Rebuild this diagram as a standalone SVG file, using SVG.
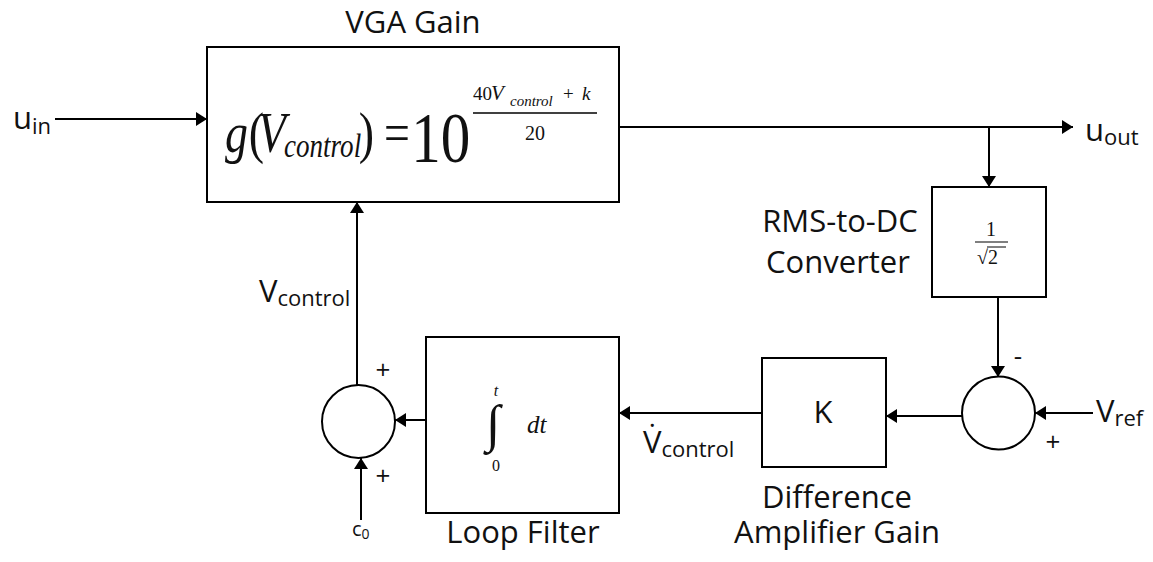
<svg xmlns="http://www.w3.org/2000/svg" width="1153" height="562" viewBox="0 0 1153 562">
<style>
.box{fill:#fff;stroke:#000;stroke-width:2}
.sum{fill:#fff;stroke:#000;stroke-width:2}
.ln{fill:none;stroke:#000;stroke-width:2}
.lbl{font-family:"Open Sans","Noto Sans",sans-serif;font-size:31px;fill:#111}
.sub{font-size:22px}
.sign{font-family:"Open Sans","Noto Sans",sans-serif;font-size:26px;fill:#111}
.m{font-family:"Liberation Serif",serif;fill:#111}
.it{font-style:italic}
</style>
<defs>
<marker id="ah" viewBox="0 0 11 14" refX="11" refY="7" markerWidth="11" markerHeight="14" markerUnits="userSpaceOnUse" orient="auto">
<path d="M0,0 L11,7 L0,14 z" fill="#000"/>
</marker>
</defs>

<g id="connectors">
<line class="ln" x1="55" y1="119" x2="207" y2="119" marker-end="url(#ah)"/>
<line class="ln" x1="619" y1="127" x2="1073" y2="127" marker-end="url(#ah)"/>
<line class="ln" x1="989" y1="127" x2="989" y2="187" marker-end="url(#ah)"/>
<line class="ln" x1="998" y1="297" x2="998" y2="377" marker-end="url(#ah)"/>
<line class="ln" x1="1093" y1="413" x2="1035" y2="413" marker-end="url(#ah)"/>
<line class="ln" x1="962" y1="416" x2="886" y2="416" marker-end="url(#ah)"/>
<line class="ln" x1="762" y1="413" x2="619" y2="413" marker-end="url(#ah)"/>
<line class="ln" x1="426" y1="420" x2="395" y2="420" marker-end="url(#ah)"/>
<line class="ln" x1="357" y1="385" x2="357" y2="202" marker-end="url(#ah)"/>
<line class="ln" x1="361" y1="520" x2="361" y2="458" marker-end="url(#ah)"/>
</g>

<g id="labels">
<text class="lbl" x="13" y="129">u<tspan class="sub" dy="5">in</tspan></text>
<text class="lbl" x="1085" y="141">u<tspan class="sub" dy="4">out</tspan></text>
<text class="lbl" x="259" y="302">V<tspan class="sub" dy="4">control</tspan></text>
<text class="lbl" x="1096" y="422">V<tspan class="sub" dy="4">ref</tspan></text>
<text class="lbl" x="643" y="453">V̇<tspan class="sub" dy="4">control</tspan></text>
<text class="lbl" x="352" y="536" style="font-size:20px">c<tspan style="font-size:14px" dy="3">0</tspan></text>
</g>

<g id="vga">
<text class="lbl" x="413" y="33" text-anchor="middle">VGA Gain</text>
<rect class="box" x="207" y="47" width="412" height="155"/>
<g transform="translate(225,0) scale(0.82,1)">
<text class="m" y="152" font-size="56"><tspan class="it" x="0">g</tspan><tspan x="29">(</tspan><tspan class="it" x="40">V</tspan><tspan class="it" x="72" y="157" font-size="33">control</tspan><tspan x="163" y="152">)</tspan><tspan x="194">=</tspan><tspan x="227" y="162" font-size="72">10</tspan></text>
</g>
<text class="m" y="100" font-size="19"><tspan x="473">40</tspan><tspan class="it" x="491" font-size="21">V</tspan><tspan class="it" x="510" y="106" font-size="15">control</tspan><tspan x="563" y="100">+</tspan><tspan class="it" x="582">k</tspan></text>
<line x1="473" y1="113" x2="597" y2="113" stroke="#000" stroke-width="1.3"/>
<text class="m" x="535" y="140" font-size="20" text-anchor="middle">20</text>
</g>

<g id="rms">
<text class="lbl" x="840" y="232" text-anchor="middle">RMS-to-DC</text>
<text class="lbl" x="838" y="273" text-anchor="middle">Converter</text>
<rect class="box" x="932" y="187" width="114" height="110"/>
<text class="m" x="991" y="236" font-size="20" text-anchor="middle">1</text>
<line x1="975" y1="242" x2="1008" y2="242" stroke="#000" stroke-width="1.2"/>
<text class="m" x="977" y="264" font-size="20">√2</text>
<line x1="987" y1="247" x2="1006" y2="247" stroke="#000" stroke-width="1"/>
</g>

<g id="sum-right">
<circle class="sum" cx="998.5" cy="413" r="36.5"/>
<text class="sign" x="1018" y="365" text-anchor="middle">-</text>
<text class="sign" x="1053" y="451" text-anchor="middle">+</text>
</g>

<g id="k-gain">
<rect class="box" x="762" y="358" width="124" height="109"/>
<text class="lbl" x="823" y="423" text-anchor="middle">K</text>
<text class="lbl" x="837" y="508" text-anchor="middle">Difference</text>
<text class="lbl" x="837" y="543" text-anchor="middle">Amplifier Gain</text>
</g>

<g id="loop-filter">
<rect class="box" x="426" y="337" width="193" height="176"/>
<text class="m" x="493" y="441" font-size="52" text-anchor="middle">∫</text>
<text class="m it" x="496" y="396" font-size="16" text-anchor="middle">t</text>
<text class="m" x="496" y="471" font-size="16" text-anchor="middle">0</text>
<text class="m it" x="527" y="433" font-size="25">dt</text>
<text class="lbl" x="523" y="543" text-anchor="middle">Loop Filter</text>
</g>

<g id="sum-left">
<circle class="sum" cx="358.5" cy="421.5" r="36.5"/>
<text class="sign" x="383" y="379" text-anchor="middle">+</text>
<text class="sign" x="383" y="485" text-anchor="middle">+</text>
</g>
</svg>
